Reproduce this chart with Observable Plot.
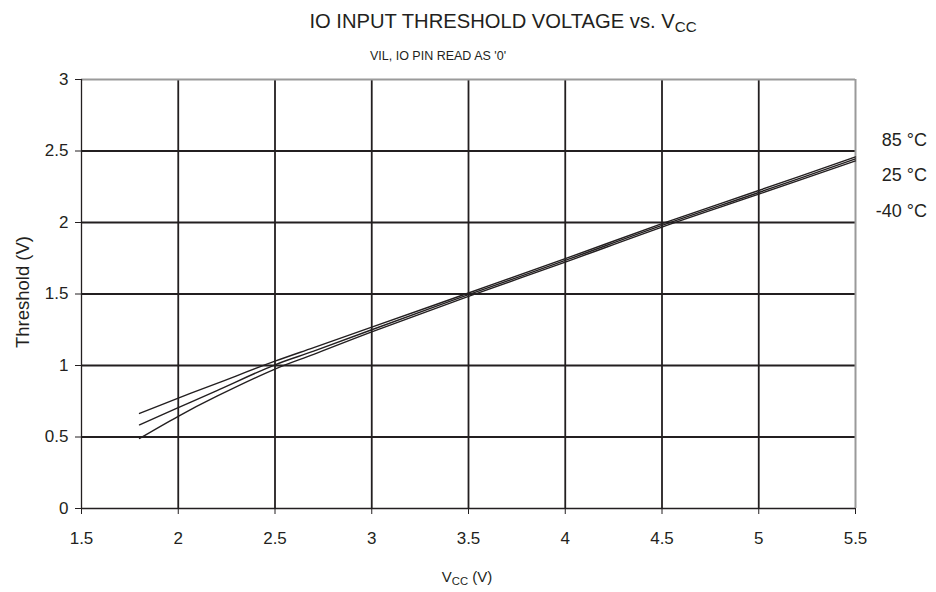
<!DOCTYPE html>
<html>
<head>
<meta charset="utf-8">
<script src="https://cdn.jsdelivr.net/npm/d3@7"></script>
<script src="https://cdn.jsdelivr.net/npm/@observablehq/plot@0.6"></script>
<style>
  body { margin: 0; background: #fff; font-family: "Liberation Sans", Arial, Helvetica, sans-serif; color: #231f20; }
  #wrap { position: relative; width: 936px; height: 592px; overflow: hidden; }
  .abs { position: absolute; white-space: nowrap; line-height: 1; }
  sub { font-size: 0.75em; vertical-align: -0.25em; }
</style>
</head>
<body>
<div id="wrap"></div>
<script>
// ---- data ----
const vcc = [1.8, 2.0, 2.2, 2.5, 2.7, 3.0, 3.5, 4.0, 4.5, 5.0, 5.5];
const t85 = [0.665, 0.772, 0.875, 1.03, 1.125, 1.268, 1.507, 1.747, 1.992, 2.224, 2.459];
const t25 = [0.585, 0.705, 0.825, 1.005, 1.10, 1.25, 1.495, 1.735, 1.98, 2.21, 2.445];
const tm40 = [0.49, 0.645, 0.785, 0.975, 1.078, 1.235, 1.483, 1.723, 1.968, 2.198, 2.431];
const seriesNames = ["85 °C", "25 °C", "-40 °C"];
const xTicks = [1.5, 2, 2.5, 3, 3.5, 4, 4.5, 5, 5.5];
const yTicks = [0, 0.5, 1, 1.5, 2, 2.5, 3];
const titleText = "IO INPUT THRESHOLD VOLTAGE vs. V<sub>CC</sub>";
const subtitleText = "VIL, IO PIN READ AS '0'";
const xLabelText = "V<sub>CC</sub> (V)";
const yLabelText = "Threshold (V)";

const seriesVals = [t85, t25, tm40];
const rows = [];
seriesNames.forEach((s, i) => vcc.forEach((v, j) => rows.push({series: s, vcc: v, t: seriesVals[i][j]})));

const ink = "#231f20";
const fmt = d => String(d);
const chart = Plot.plot({
  width: 936,
  height: 592,
  marginLeft: 81,
  marginRight: 81,
  marginTop: 79,
  marginBottom: 84,
  style: {fontFamily: '"Liberation Sans", Arial, Helvetica, sans-serif', fontSize: "17px", color: ink, background: "#fff"},
  x: {domain: [1.5, 5.5], ticks: xTicks},
  y: {domain: [0, 3], ticks: yTicks},
  marks: [
    Plot.gridX(xTicks.slice(1, -1), {stroke: ink, strokeOpacity: 1, strokeWidth: 1.8}),
    Plot.gridY(yTicks.slice(1, -1), {stroke: ink, strokeOpacity: 1, strokeWidth: 1.8}),
    Plot.ruleY([3], {stroke: "#9a9a9a", strokeWidth: 2}),
    Plot.ruleX([5.5], {stroke: "#9a9a9a", strokeWidth: 2}),
    Plot.ruleX([1.5], {stroke: ink, strokeWidth: 1.3}),
    Plot.ruleY([0], {stroke: ink, strokeWidth: 1.3}),
    Plot.axisX(xTicks, {tickSize: 6, tickPadding: 17, tickFormat: fmt, label: null, fontSize: 17, stroke: ink}),
    Plot.axisY(yTicks, {tickSize: 6, tickPadding: 7, tickFormat: fmt, label: null, fontSize: 17, stroke: ink}),
    Plot.line(rows, {x: "vcc", y: "t", z: "series", stroke: ink, strokeWidth: 1.4, curve: "catmull-rom"})
  ]
});
const wrap = document.getElementById("wrap");
chart.style.position = "absolute";
chart.style.left = "0px";
chart.style.top = "0px";
wrap.appendChild(chart);

function addText(html, css) {
  const d = document.createElement("div");
  d.className = "abs";
  d.innerHTML = html;
  Object.assign(d.style, css);
  wrap.appendChild(d);
  return d;
}
addText(titleText, {left: "503px", top: "11px", transform: "translateX(-50%)", fontSize: "20.2px"});
addText(subtitleText, {left: "438px", top: "50px", transform: "translateX(-50%)", fontSize: "12.5px"});
addText(xLabelText, {left: "467px", top: "569px", transform: "translateX(-50%)", fontSize: "15px"});
addText(yLabelText, {left: "23px", top: "292px", transform: "translate(-50%,-50%) rotate(-90deg)", fontSize: "18.5px"});
const legendTops = [131, 166, 202];
seriesNames.forEach((s, i) => addText(s, {right: "9px", top: legendTops[i] + "px", fontSize: "18px"}));
</script>
</body>
</html>
